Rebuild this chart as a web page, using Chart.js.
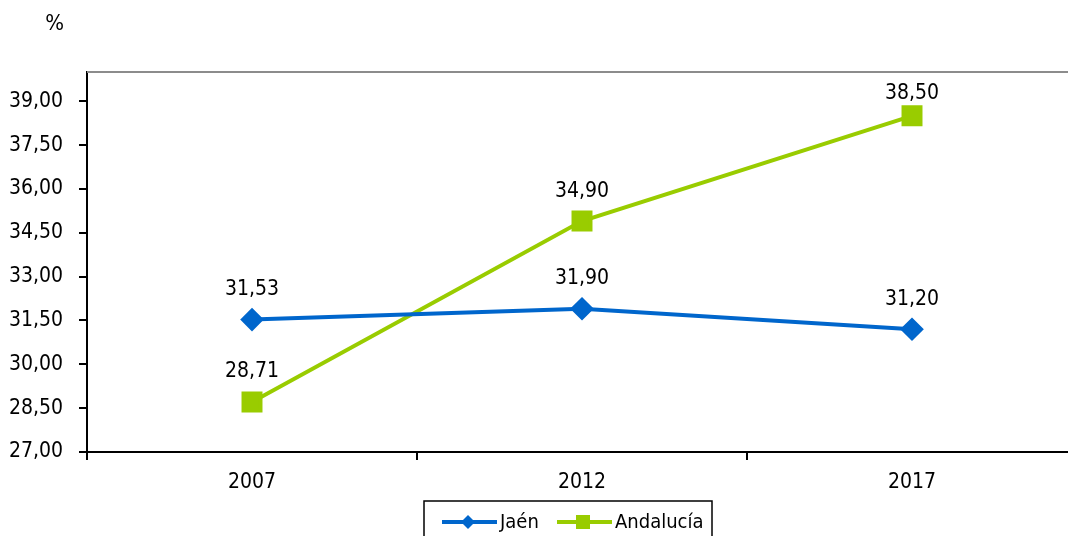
<!DOCTYPE html>
<html>
<head>
<meta charset="utf-8">
<script src="https://cdn.jsdelivr.net/npm/chart.js@4.4.0/dist/chart.umd.min.js"></script>
<style>
  html, body { margin: 0; padding: 0; background: #fff; }
  #wrap { width: 1068px; height: 536px; }
</style>
</head>
<body>
<div id="wrap"><canvas id="chart" width="1068" height="536"></canvas></div>
<script>
// ─── Data ────────────────────────────────────────────────
const years = ['2007', '2012', '2017'];
const jaen = [31.53, 31.90, 31.20];
const andalucia = [28.71, 34.90, 38.50];
const yTicks = [27, 28.5, 30, 31.5, 33, 34.5, 36, 37.5, 39];
const xTicks = [-0.5, 0, 0.5, 1, 1.5, 2];

const BLUE = '#0066CC';
const GREEN = '#99CC00';
const FONT = "'DejaVu Sans Condensed', 'DejaVu Sans', sans-serif";

const fmt = v => v.toFixed(2).replace('.', ',');

// extra drawing: top border, "%" label, value labels, legend box
const decorations = {
    id: 'decorations',
    afterDatasetsDraw(chart) {
        const { ctx, chartArea } = chart;
        ctx.save();

        // grey top border of plot area
        ctx.strokeStyle = '#8c8c8c';
        ctx.lineWidth = 2;
        ctx.beginPath();
        ctx.moveTo(chartArea.left, chartArea.top);
        ctx.lineTo(chartArea.right, chartArea.top);
        ctx.stroke();

        // unit label
        ctx.fillStyle = '#000';
        ctx.font = '22px ' + FONT;
        ctx.textAlign = 'right';
        ctx.textBaseline = 'middle';
        ctx.fillText('%', 64, 24);

        // value labels above points
        ctx.font = '21px ' + FONT;
        ctx.textAlign = 'center';
        chart.data.datasets.forEach((ds, i) => {
            chart.getDatasetMeta(i).data.forEach((pt, j) => {
                const y = Math.max(pt.y - 30, chartArea.top + 22);
                ctx.fillText(fmt(ds.data[j].y), pt.x, y);
            });
        });

        // legend
        const lx = 424, ly = 501, lw = 288, lh = 45;
        ctx.strokeStyle = '#000';
        ctx.lineWidth = 1.5;
        ctx.strokeRect(lx, ly, lw, lh);
        const cy = 522;
        const items = [
            { label: 'Jaén', color: BLUE, x0: 442, shape: 'diamond' },
            { label: 'Andalucía', color: GREEN, x0: 557, shape: 'square' }
        ];
        ctx.font = '20px ' + FONT;
        ctx.textAlign = 'left';
        items.forEach(it => {
            ctx.strokeStyle = it.color;
            ctx.fillStyle = it.color;
            ctx.lineWidth = 4;
            ctx.beginPath();
            ctx.moveTo(it.x0, cy);
            ctx.lineTo(it.x0 + 55, cy);
            ctx.stroke();
            const mx = it.x0 + 26;
            ctx.beginPath();
            if (it.shape === 'diamond') {
                ctx.moveTo(mx, cy - 7);
                ctx.lineTo(mx + 7, cy);
                ctx.lineTo(mx, cy + 7);
                ctx.lineTo(mx - 7, cy);
                ctx.closePath();
                ctx.fill();
            } else {
                ctx.fillRect(mx - 7, cy - 7, 14, 14);
            }
            ctx.fillStyle = '#000';
            ctx.fillText(it.label, it.x0 + 58, cy + 1);
        });

        ctx.restore();
    }
};

new Chart(document.getElementById('chart'), {
    type: 'line',
    data: {
        datasets: [{
            label: 'Jaén',
            data: jaen.map((v, i) => ({ x: i, y: v })),
            borderColor: BLUE,
            backgroundColor: BLUE,
            borderWidth: 4,
            pointStyle: 'rectRot',
            pointRadius: 9,
            pointHoverRadius: 9,
            tension: 0
        }, {
            label: 'Andalucía',
            data: andalucia.map((v, i) => ({ x: i, y: v })),
            borderColor: GREEN,
            backgroundColor: GREEN,
            borderWidth: 4,
            pointStyle: 'rect',
            pointRadius: 12,
            pointHoverRadius: 12,
            tension: 0
        }]
    },
    options: {
        responsive: false,
        animation: false,
        events: [],
        layout: { autoPadding: false, padding: { top: 72, left: 0, right: 0, bottom: 0 } },
        plugins: {
            legend: { display: false },
            tooltip: { enabled: false }
        },
        scales: {
            x: {
                type: 'linear',
                min: -0.5,
                max: 2.4727,
                afterBuildTicks: s => { s.ticks = xTicks.map(v => ({ value: v })); },
                afterFit: s => { s.height = 84; s.paddingLeft = 0; s.paddingRight = 0; },
                border: { color: '#000', width: 2 },
                grid: {
                    drawOnChartArea: false,
                    tickLength: 8,
                    lineWidth: 2,
                    color: c => (c.tick && c.tick.value % 1 !== 0) ? '#000' : 'rgba(0,0,0,0)'
                },
                ticks: {
                    color: '#000',
                    font: { family: FONT, size: 21 },
                    padding: 10,
                    maxRotation: 0,
                    autoSkip: false,
                    callback: v => Number.isInteger(v) ? years[v] : ''
                }
            },
            y: {
                min: 27,
                max: 40,
                afterBuildTicks: s => { s.ticks = yTicks.map(v => ({ value: v })); },
                afterFit: s => { s.width = 87; },
                border: { color: '#000', width: 2 },
                grid: {
                    drawOnChartArea: false,
                    tickLength: 8,
                    lineWidth: 2,
                    color: '#000'
                },
                ticks: {
                    color: '#000',
                    font: { family: FONT, size: 21 },
                    padding: 16,
                    callback: v => fmt(v)
                }
            }
        }
    },
    plugins: [decorations]
});
</script>
</body>
</html>
